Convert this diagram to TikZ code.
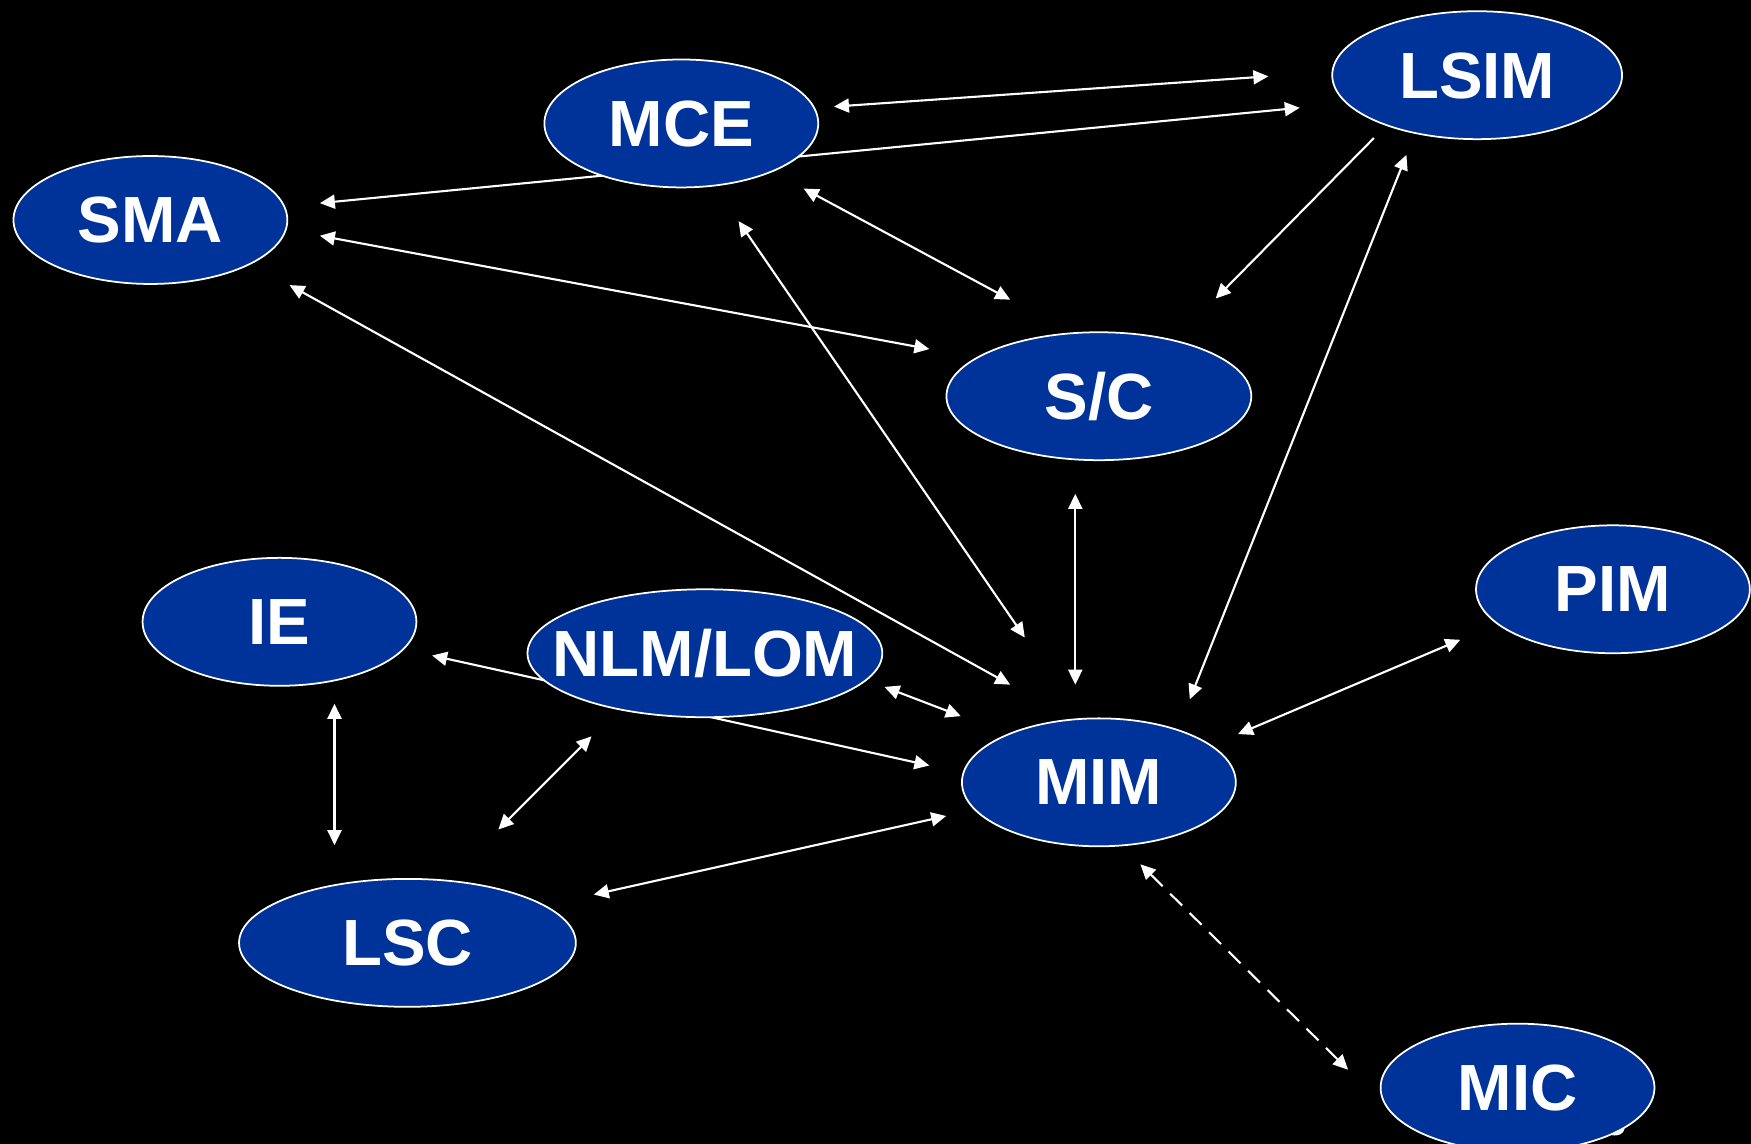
\documentclass[tikz,border=0pt]{standalone}
\usepackage{fontspec}
\setmainfont{Liberation Sans}
\usetikzlibrary{shapes.geometric,arrows.meta}
\pgfdeclarelayer{canvas}
\pgfdeclarelayer{background}
\pgfsetlayers{canvas,background,main}
\definecolor{nodeblue}{RGB}{0,51,153}
\tikzset{
  ell/.style={ellipse, fill=nodeblue, draw=white, line width=0.5pt, inner sep=0pt,
    minimum height=1.28cm, text=white, font=\bfseries\fontsize{18.6}{21}\selectfont, text depth=0pt},
  conn/.style={draw=white, line width=0.6pt, {Triangle[length=0.15cm,width=0.14cm]}-{Triangle[length=0.15cm,width=0.14cm]}},
  oneway/.style={draw=white, line width=0.6pt, -{Triangle[length=0.15cm,width=0.14cm]}},
  dashconn/.style={conn, dash pattern=on 4.8pt off 3pt}
}
\newcommand{\lbl}[1]{\makebox[0pt]{#1}}
\begin{document}
\begin{tikzpicture}[x=0.011224cm, y=-0.011224cm]
\begin{pgfonlayer}{canvas}
\fill[black] (0,0) rectangle (1560,1019.2);
\end{pgfonlayer}
\useasboundingbox (0,0) rectangle (1560,1019.2);
% slide number fragment behind MIC
\node[text=white, font=\fontsize{12}{14}\selectfont, inner sep=0pt] (pagenum) at (1439,999) {3};
% nodes
\node[ell, minimum width=2.74cm] (mce) at (607,110) {\lbl{MCE}};
\node[ell, minimum width=2.90cm] (lsim) at (1316,67) {\lbl{LSIM}};
\node[ell, minimum width=2.74cm] (sma) at (134,196) {\lbl{SMA}};
\node[ell, minimum width=3.05cm] (sc) at (979,353) {\lbl{S/C}};
\node[ell, minimum width=2.74cm] (ie) at (249,554) {\lbl{IE}};
\node[ell, minimum width=3.55cm] (nlm) at (628,582) {\lbl{NLM/LOM}};
\node[ell, minimum width=2.74cm] (pim) at (1437,525) {\lbl{PIM}};
\node[ell, minimum width=2.74cm] (mim) at (979,697) {\lbl{MIM}};
\node[ell, minimum width=3.37cm] (lsc) at (363,840) {\lbl{LSC}};
\node[ell, minimum width=2.74cm] (mic) at (1352,969) {\lbl{MIC}};
% connectors
\begin{pgfonlayer}{background}
\draw[conn] ([shift={(136,-15)}]mce.center) -- ([shift={(-186,1)}]lsim.center);
\draw[conn] ([shift={(151,-15)}]sma.center) -- ([shift={(-158,29)}]lsim.center);
\draw[conn] ([shift={(136,30)}]ie.center) -- ([shift={(-151,-15)}]mim.center);
\draw[conn] ([shift={(109,58)}]mce.center) -- ([shift={(-79,-86)}]sc.center);
\draw[conn] ([shift={(51,87)}]mce.center) -- ([shift={(-66,-129)}]mim.center);
\draw[conn] ([shift={(151,14)}]sma.center) -- ([shift={(-151,-42)}]sc.center);
\draw[conn] ([shift={(124,58)}]sma.center) -- ([shift={(-79,-87)}]mim.center);
\draw[oneway] ([shift={(-92,56)}]lsim.center) -- ([shift={(104,-87)}]sc.center);
\draw[conn] ([shift={(-63,71)}]lsim.center) -- ([shift={(81,-74)}]mim.center);
\draw[conn] ([shift={(-21,87)}]sc.center) -- ([shift={(-21,-87)}]mim.center);
\draw[conn] ([shift={(160,30)}]nlm.center) -- ([shift={(-123,-59)}]mim.center);
\draw[conn] ([shift={(-136,45)}]pim.center) -- ([shift={(124,-43)}]mim.center);
\draw[conn] ([shift={(49,73)}]ie.center) -- ([shift={(-65,-87)}]lsc.center);
\draw[conn] ([shift={(-101,74)}]nlm.center) -- ([shift={(81,-101)}]lsc.center);
\draw[conn] ([shift={(166,-43)}]lsc.center) -- ([shift={(-136,30)}]mim.center);
\draw[dashconn] ([shift={(37,73)}]mim.center) -- ([shift={(-151,-16)}]mic.center);
\end{pgfonlayer}
\end{tikzpicture}
\end{document}
